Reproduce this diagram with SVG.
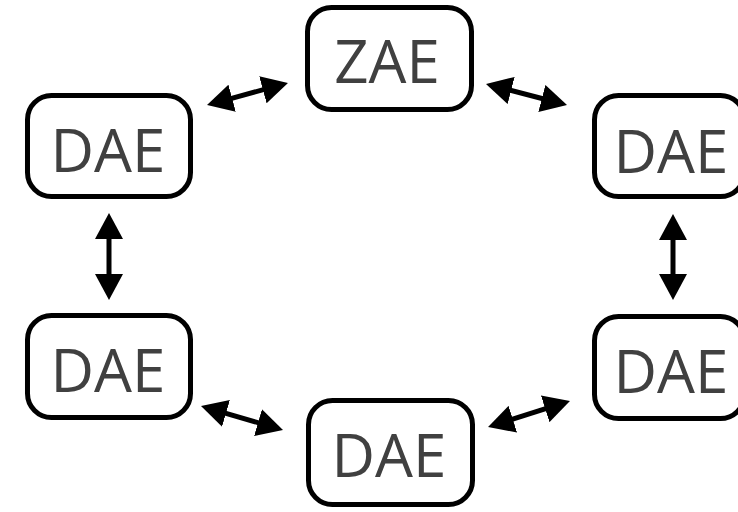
<svg xmlns="http://www.w3.org/2000/svg" width="738" height="512" viewBox="0 0 738 512">
  <style>
    .box { fill: #ffffff; stroke: #000000; stroke-width: 5; }
    .label { font-family: "Open Sans", "Noto Sans", "Liberation Sans", sans-serif; font-size: 60px; fill: #404040; text-anchor: middle; }
    .link { stroke: #000000; stroke-width: 5; fill: none; marker-start: url(#head); marker-end: url(#head); }
  </style>
  <defs>
    <marker id="head" markerUnits="userSpaceOnUse" viewBox="0 0 26 28" markerWidth="26" markerHeight="28" refX="8" refY="14" orient="auto-start-reverse">
      <path d="M0,0 L26,14 L0,28 z" fill="#000000"/>
    </marker>
  </defs>

  <rect width="738" height="512" fill="#ffffff"/>

  <g id="connectors">
    <line class="link" x1="224.4" y1="100.3" x2="270.6" y2="87.7"/>
    <line class="link" x1="503.4" y1="88.5" x2="549.6" y2="100.5"/>
    <line class="link" x1="109" y1="231" x2="109" y2="282"/>
    <line class="link" x1="673" y1="232" x2="673" y2="282"/>
    <line class="link" x1="218.3" y1="411.1" x2="265.7" y2="424.9"/>
    <line class="link" x1="505.2" y1="421.6" x2="552.8" y2="406.4"/>
  </g>

  <g id="zae-top">
    <rect class="box" x="307.5" y="7.5" width="164" height="102" rx="24"/>
    <text class="label" x="387" y="83">ZAE</text>
  </g>
  <g id="dae-top-left">
    <rect class="box" x="27.5" y="95.5" width="163" height="101" rx="24"/>
    <text class="label" x="108" y="172">DAE</text>
  </g>
  <g id="dae-top-right">
    <rect class="box" x="594.5" y="95.5" width="150" height="101" rx="24"/>
    <text class="label" x="671" y="173">DAE</text>
  </g>
  <g id="dae-bottom-left">
    <rect class="box" x="27.5" y="315.5" width="163" height="102" rx="24"/>
    <text class="label" x="108" y="392">DAE</text>
  </g>
  <g id="dae-bottom-right">
    <rect class="box" x="594.5" y="316.5" width="150" height="102" rx="24"/>
    <text class="label" x="671" y="393">DAE</text>
  </g>
  <g id="dae-bottom">
    <rect class="box" x="308.5" y="400.5" width="164" height="104" rx="24"/>
    <text class="label" x="389" y="477">DAE</text>
  </g>
</svg>
